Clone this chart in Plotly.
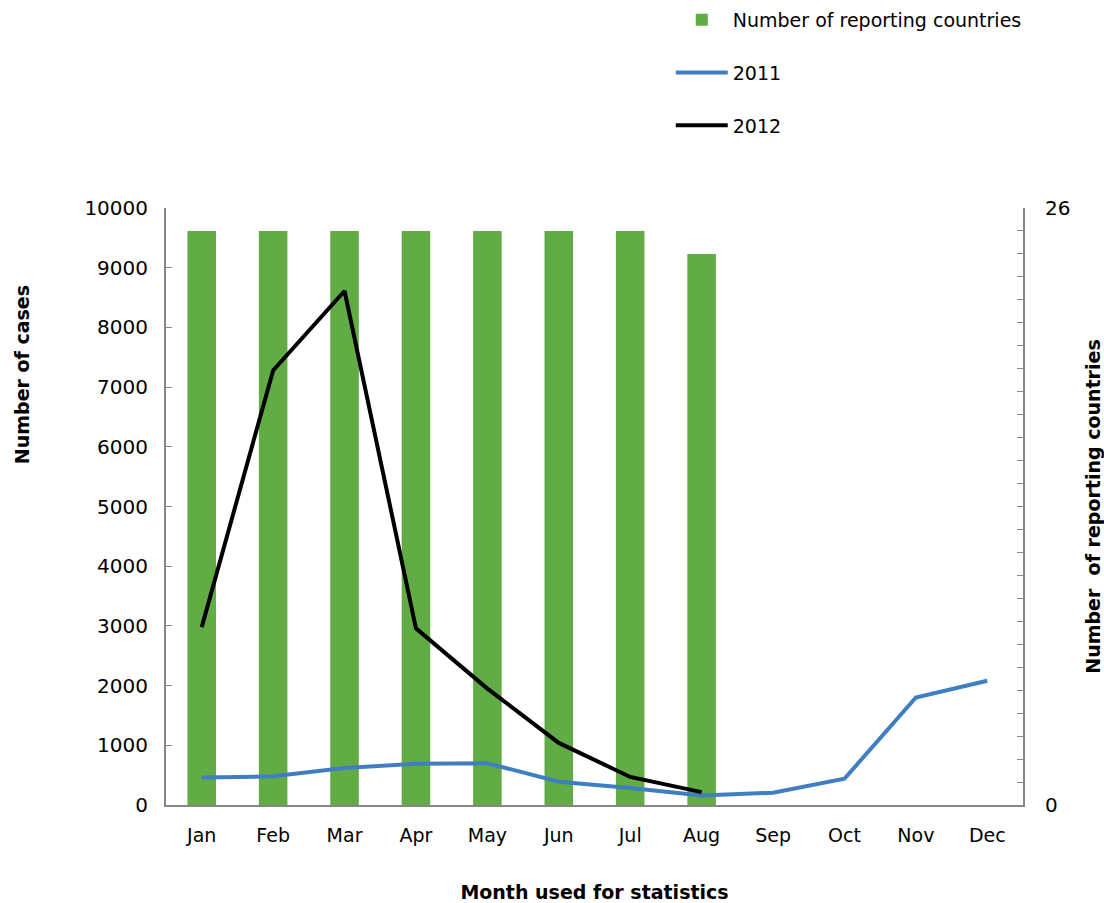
import plotly.graph_objects as go

months = ["Jan", "Feb", "Mar", "Apr", "May", "Jun", "Jul", "Aug", "Sep", "Oct", "Nov", "Dec"]
countries = [25, 25, 25, 25, 25, 25, 25, 24]
cases_2011 = [460, 480, 620, 690, 700, 390, 285, 160, 205, 440, 1800, 2080]
cases_2012 = [2980, 7280, 8610, 2960, 1950, 1040, 470, 215]

right_ticks = list(range(0, 27))
right_labels = [str(v) if v in (0, 26) else "" for v in right_ticks]
left_ticks = list(range(0, 10001, 1000))
left_labels = [str(v) for v in left_ticks]

FONT = "DejaVu Sans"
AX = "#868686"

fig = go.Figure()
fig.add_trace(go.Bar(x=months[:len(countries)], y=countries, name="Number of reporting countries",
                     marker=dict(color="#62AC46", line=dict(width=0)), yaxis="y", legendgroup="a"))
fig.add_trace(go.Scatter(x=months, y=cases_2011, name="2011", mode="lines",
                         line=dict(color="#3F7EC1", width=4), yaxis="y2", legendgroup="b"))
fig.add_trace(go.Scatter(x=months[:len(cases_2012)], y=cases_2012, name="2012", mode="lines",
                         line=dict(color="#000000", width=4), yaxis="y2", legendgroup="c"))

fig.update_layout(
    width=1104, height=903,
    margin=dict(l=166, r=81, t=208, b=98),
    paper_bgcolor="white", plot_bgcolor="white",
    font=dict(family=FONT, size=19, color="#000000"),
    bargap=0.6,
    showlegend=True,
    legend=dict(x=0.589, y=0.999, xref="paper", yref="container", xanchor="left", yanchor="top",
                orientation="v", tracegroupgap=25, itemwidth=52, font=dict(size=19),
                bgcolor="rgba(0,0,0,0)"),
    xaxis=dict(type="category", categoryorder="array", categoryarray=months, range=[-0.5, 11.5],
               showline=True, linecolor=AX, linewidth=2, ticks="", showgrid=False, automargin=False,
               tickfont=dict(size=19), ticklabelstandoff=12,
               title=dict(text="<b>Month used for statistics</b>", font=dict(size=19), standoff=45)),
    yaxis=dict(side="right", range=[0, 26], tickmode="array", tickvals=right_ticks, ticktext=right_labels,
               showline=True, linecolor=AX, linewidth=2, ticks="inside", ticklen=6, tickcolor=AX,
               showgrid=False, zeroline=False, ticklabelstandoff=16, automargin=False,
               tickfont=dict(size=20),
               title=dict(text="<b>Number  of reporting countries</b>", font=dict(size=19), standoff=30)),
    yaxis2=dict(overlaying="y", side="left", range=[0, 10000], tickmode="array", tickvals=left_ticks,
                ticktext=left_labels, automargin=False,
                showline=True, linecolor=AX, linewidth=2, ticks="inside", ticklen=6, tickcolor=AX,
                showgrid=False, zeroline=False, ticklabelstandoff=12, tickfont=dict(size=20)),
    annotations=[dict(text="<b>Number of cases</b>", textangle=-90, showarrow=False,
                      xref="paper", yref="paper", x=-0.168, y=0.72, xanchor="center", yanchor="middle",
                      font=dict(size=19, family=FONT))],
)

fig.write_html("out.html")
